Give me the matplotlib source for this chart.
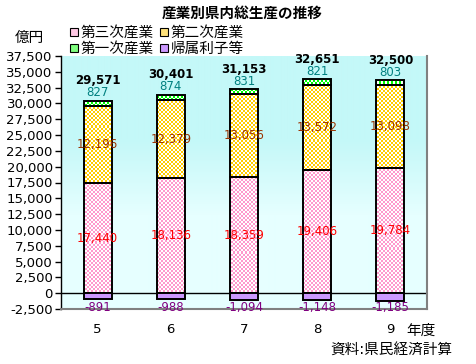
import numpy as np
import matplotlib
matplotlib.use('Agg')
import matplotlib.pyplot as plt
from matplotlib.patches import Rectangle
from matplotlib.colors import to_rgba
from matplotlib.ticker import MultipleLocator, FuncFormatter

plt.rcParams['font.family'] = ['DejaVu Sans', 'Noto Sans CJK JP']

years = ['5', '6', '7', '8', '9']
tertiary = [17440, 18136, 18359, 19406, 19784]
secondary = [12196, 12379, 13056, 13572, 13098]
primary = [827, 874, 831, 821, 803]
imputed = [-891, -988, -1094, -1148, -1185]
totals = [29571, 30401, 31153, 32651, 32500]
series_names = ['第三次産業', '第二次産業', '第一次産業', '帰属利子等']

c_pink = '#FF99CC'
c_yel = '#FFCC00'
c_grn = '#00FF00'
c_pur = '#CC99FF'

W, H = 476, 364
fig = plt.figure(figsize=(W / 100, H / 100), dpi=100)
L, R, T, B = 61, 427, 56, 309
ax = fig.add_axes([L / W, 1 - B / H, (R - L) / W, (B - T) / H])
XL, YL = (-0.5, 4.5), (-2500, 37500)
ext = (XL[0], XL[1], YL[0], YL[1])

# background gradient
nh, nw = B - T, R - L
top_c = np.array([196, 248, 248]) / 255
bot_c = np.array([230, 255, 255]) / 255
f = np.linspace(0, 1, nh)
t = np.clip((f - 0.33) / 0.3, 0, 1)[:, None]
grad = top_c[None, :] * (1 - t) + bot_c[None, :] * t
grad = np.repeat(grad[:, None, :], 2, axis=1)
ax.imshow(grad, extent=ext, aspect='auto', zorder=0, interpolation='bilinear')

ii, jj = np.mgrid[0:nh, 0:nw]
mask = ((ii // 2 + jj // 2) % 2 == 0)


def checker(color):
    img = np.zeros((nh, nw, 4))
    img[mask] = to_rgba(color)
    return img


x = np.arange(len(years))
bw = 0.38
ax.axhline(0, color='black', lw=1, zorder=1.5)

bot2 = np.array(tertiary)
bot3 = bot2 + np.array(secondary)
tops = bot3 + np.array(primary)

for vals, bots, col in [(tertiary, np.zeros(5), c_pink), (secondary, bot2, c_yel), (primary, bot3, c_grn)]:
    bars = ax.bar(x, vals, bw, bottom=bots, color='white', edgecolor='none', zorder=2)
    for r in bars:
        im = ax.imshow(checker(col), extent=ext, aspect='auto', interpolation='nearest', zorder=2.1)
        im.set_clip_path(r)
    ax.bar(x, vals, bw, bottom=bots, facecolor='none', edgecolor='black', lw=1.4, zorder=3)
ax.bar(x, imputed, bw, color=c_pur, edgecolor='black', lw=1.4, zorder=3)

ax.set_xlim(*XL)
ax.set_ylim(*YL)

for i in range(5):
    ax.annotate(f'{tertiary[i]:,}', (x[i], tertiary[i] / 2), ha='center', va='center',
                color='#FF0000', fontsize=8.5, zorder=5)
    ax.annotate(f'{secondary[i]:,}', (x[i], bot2[i] + secondary[i] / 2), ha='center', va='center',
                color='#993300', fontsize=8.5, zorder=5)
    ax.annotate(f'{primary[i]:,}', (x[i], tops[i]), xytext=(0, 8), textcoords='offset pixels',
                ha='center', va='center', color='#008080', fontsize=8.5, zorder=5)
    ax.annotate(f'{totals[i]:,}', (x[i], tops[i]), xytext=(0, 20), textcoords='offset pixels',
                ha='center', va='center', color='black', fontsize=8.5, fontweight='bold', zorder=5)
    ax.annotate(f'{imputed[i]:,}', (x[i], 0), xytext=(0, -14), textcoords='offset pixels',
                ha='center', va='center', color='#800080', fontsize=8.5, zorder=5)

ax.yaxis.set_major_locator(MultipleLocator(2500))
ax.yaxis.set_major_formatter(FuncFormatter(lambda v, p: f'{int(round(v)):,}'))
ax.set_xticks(x)
ax.set_xticklabels(years)
ax.tick_params(axis='y', length=4, width=1, labelsize=9.5, pad=2, colors='black')
ax.tick_params(axis='x', length=0, labelsize=9.5, pad=10)
ax.spines['top'].set_visible(False)
ax.spines['left'].set_color('black')
ax.spines['left'].set_linewidth(1)
ax.spines['bottom'].set_color('#808080')
ax.spines['bottom'].set_linewidth(1.5)
ax.spines['right'].set_color('#808080')
ax.spines['right'].set_linewidth(1.5)


def px(xp, yp):
    return xp / W, 1 - yp / H


fig.text(*px(242, 13), '産業別県内総生産の推移', ha='center', va='center', fontsize=10.5, fontweight='bold')
fig.text(*px(44, 37), '億円', ha='right', va='center', fontsize=10.5)
fig.text(*px(406, 330), '年度', ha='left', va='center', fontsize=10.5)
fig.text(*px(452, 350), '資料:県民経済計算', ha='right', va='center', fontsize=10.5)

leg_cols = ['#FFC8E4', '#FFE27A', '#80FF80', c_pur]
leg_pos = [(70, 32), (160, 32), (70, 48), (160, 48)]
for name, col, (lx, ly) in zip(series_names, leg_cols, leg_pos):
    fig.add_artist(Rectangle(px(lx, ly + 4), 8 / W, 8 / H, transform=fig.transFigure,
                             facecolor=col, edgecolor='black', lw=0.8))
    fig.text(*px(lx + 11, ly), name, ha='left', va='center', fontsize=10.5)

fig.savefig('out.png', dpi=100)
